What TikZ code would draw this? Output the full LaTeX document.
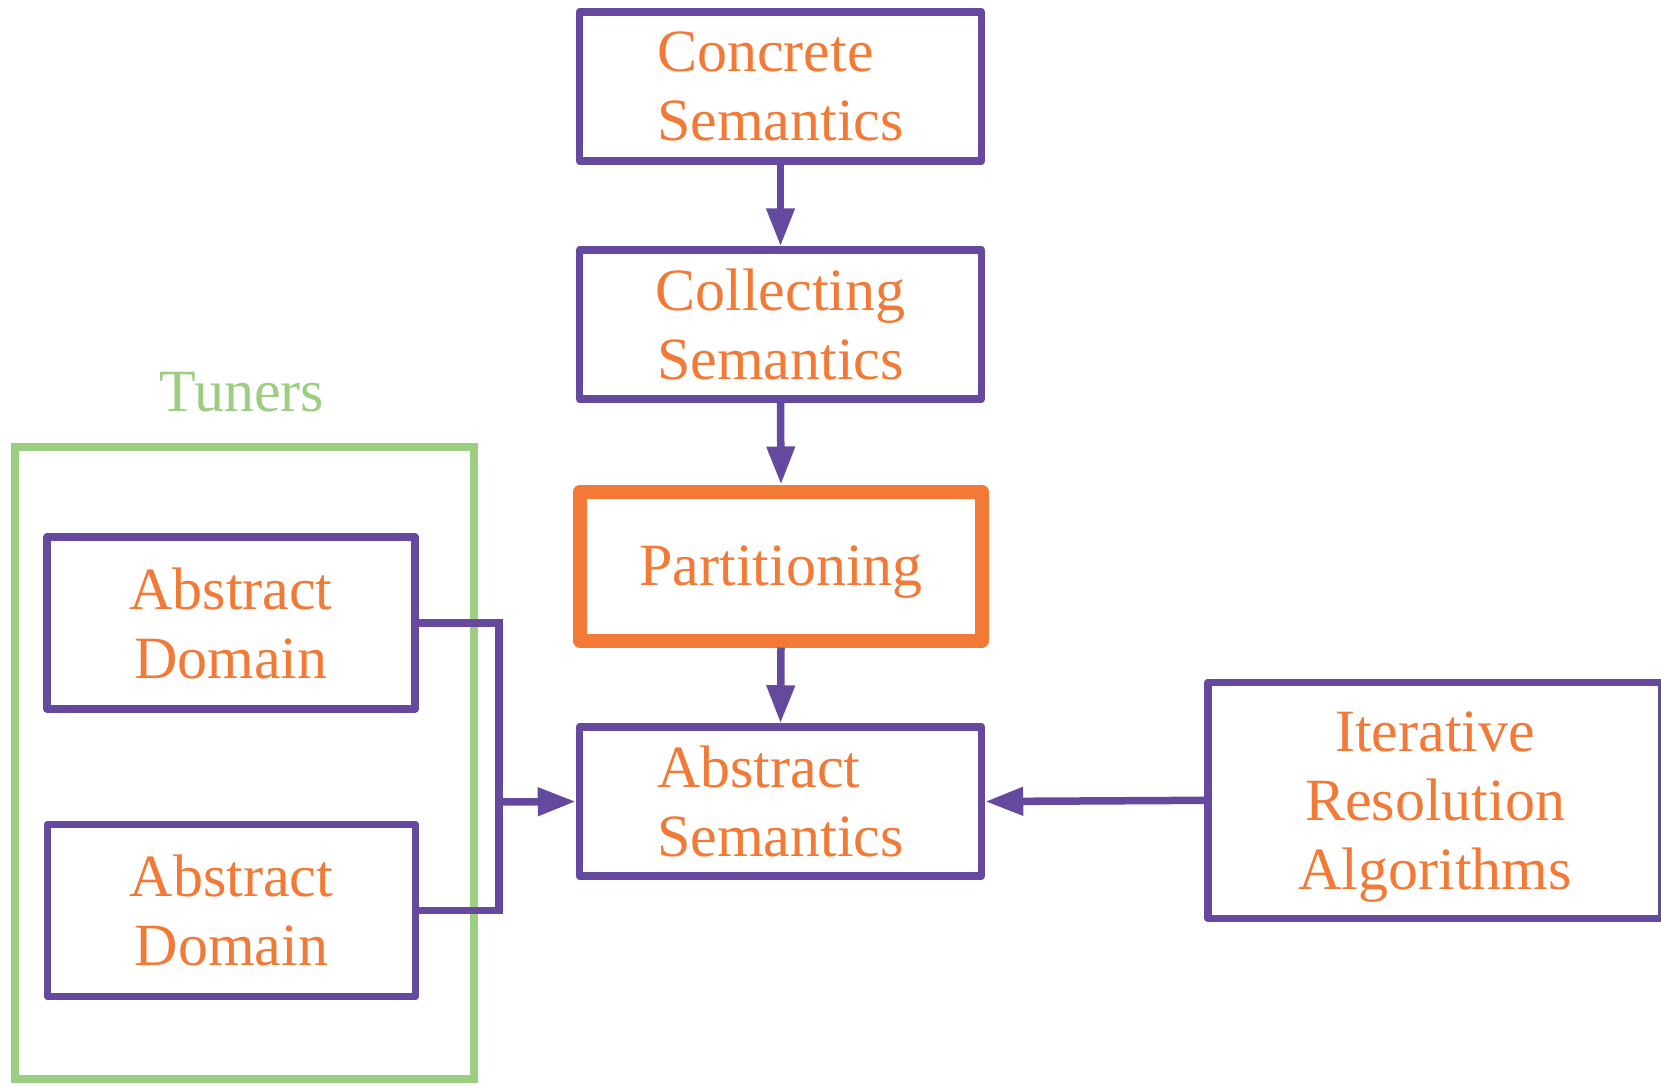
\documentclass[tikz,border=0pt]{standalone}
\usepackage{fontspec}
\setmainfont{Liberation Serif}
\usetikzlibrary{arrows.meta}
\definecolor{semviolet}{RGB}{101,73,159}
\definecolor{semorange}{RGB}{242,122,54}
\definecolor{tunegreen}{RGB}{155,206,128}
\tikzset{
  link/.style={draw=semviolet, line width=7.5pt},
  arrowlink/.style={link, -{Triangle[length=38pt,width=27pt]}},
  box/.style={draw=semviolet, line width=7.5pt, line join=round, fill=white, minimum width=402pt, minimum height=149pt, inner sep=0pt, text=semorange, font=\fontsize{60}{69}\selectfont, text depth=0pt, align=center},
  keybox/.style={box, draw=semorange, line width=14pt},
  domainbox/.style={box, minimum width=368pt, minimum height=172pt},
  algobox/.style={box, minimum width=454pt, minimum height=236pt},
  frame/.style={draw=tunegreen, line width=8pt},
  framelabel/.style={text=tunegreen, font=\fontsize{60}{69}\selectfont, inner sep=0pt}
}
\begin{document}
\begin{tikzpicture}[x=1pt,y=-1pt]
  \useasboundingbox (0,0) rectangle (1661,1085);
  % tuners group
  \draw[frame] (14.6,446.8) rectangle (473.7,1078.6);
  \node[framelabel, anchor=base] (tunerstitle) at (242,411) {Tuners};
  % main chain
  \node[box, align=left] (concrete) at (780.5,86.5) {Concrete\\Semantics};
  \node[box] (collecting) at (780.5,324.5) {Collecting\\Semantics};
  \node[keybox] (partition) at (781,566) {Partitioning};
  \node[box, align=left] (abstractsem) at (780.5,801.5) {Abstract\\Semantics};
  \node[algobox] (iterative) at (1435,800.3) {Iterative\\Resolution\\Algorithms};
  \node[domainbox] (domainA) at (231,623) {Abstract\\Domain};
  \node[domainbox] (domainB) at (231.5,910.5) {Abstract\\Domain};
  \draw[arrowlink] (concrete.south) -- (collecting.north);
  \draw[arrowlink] (collecting.south) -- (partition.north);
  \draw[arrowlink] (partition.south) -- (abstractsem.north);
  \draw[arrowlink] (iterative.west) -- (abstractsem.east);
  % domains join
  \coordinate (join) at (499,802);
  \draw[link] (domainA.east) -| (join) |- (domainB.east);
  \draw[arrowlink] (join) -- (abstractsem.west);
\end{tikzpicture}
\end{document}
